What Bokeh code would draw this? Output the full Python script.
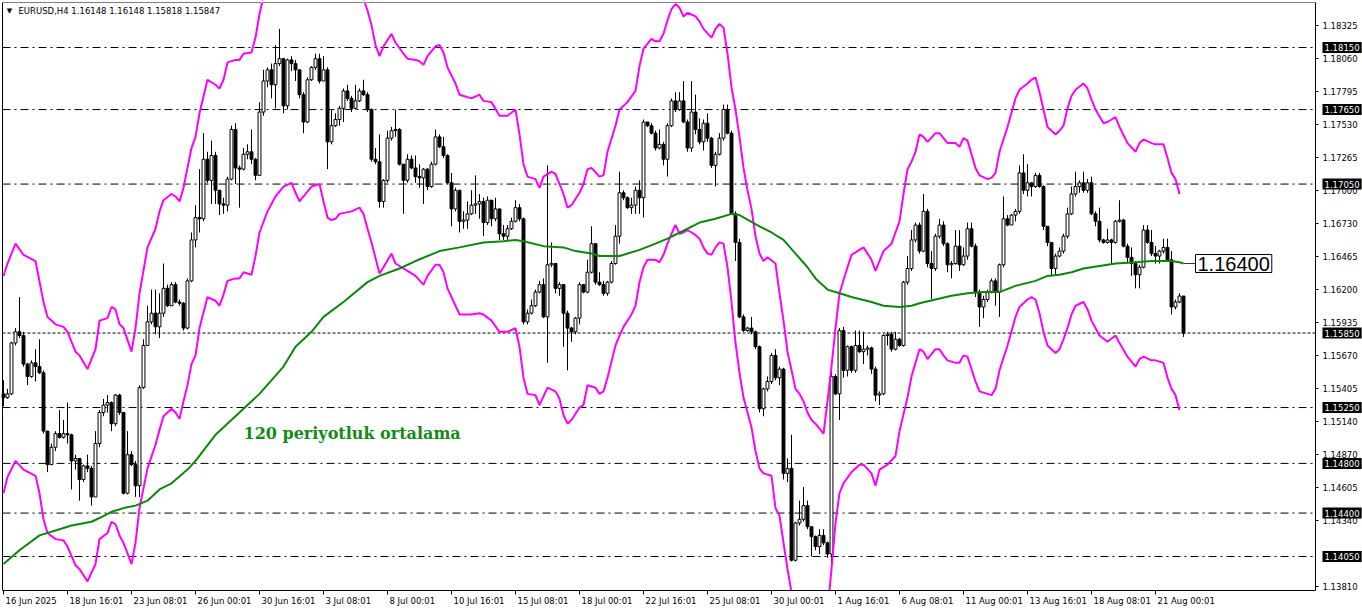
import numpy as np
from bokeh.plotting import figure
from bokeh.models import Range1d, FixedTicker, Label
from bokeh.embed import file_html
from bokeh.resources import INLINE

# ---------------- data ----------------
chart_title = "EURUSD,H4  1.16148 1.16148 1.15818 1.15847"
first_open = 1.1536

close = [
    1.1533, 1.1536, 1.1577, 1.1586, 1.1583, 1.1560, 1.1550, 1.1561, 1.1558, 1.1553,
    1.1506, 1.1479, 1.1493, 1.1504, 1.1501, 1.1504, 1.1503, 1.1482, 1.1484, 1.1467,
    1.1478, 1.1476, 1.1453, 1.1496, 1.1521, 1.1527, 1.1529, 1.1512, 1.1535, 1.1521,
    1.1456, 1.1487, 1.1479, 1.1462, 1.1541, 1.1575, 1.1594, 1.1601, 1.1590, 1.1601,
    1.1621, 1.1607, 1.1624, 1.1610, 1.1609, 1.1589, 1.1627, 1.1660, 1.1678, 1.1677,
    1.1725, 1.1708, 1.1728, 1.1700, 1.1689, 1.1688, 1.1709, 1.1749, 1.1718, 1.1717,
    1.1729, 1.1731, 1.1725, 1.1712, 1.1763, 1.1788, 1.1797, 1.1785, 1.1802, 1.1806,
    1.1768, 1.1805, 1.1802, 1.1797, 1.1777, 1.1755, 1.1789, 1.1799, 1.1806, 1.1788,
    1.1797, 1.1739, 1.1752, 1.1757, 1.1766, 1.1780, 1.1774, 1.1766, 1.1772, 1.1780,
    1.1777, 1.1765, 1.1725, 1.1723, 1.1691, 1.1708, 1.1742, 1.1748, 1.1749, 1.1721,
    1.1708, 1.1725, 1.1718, 1.1711, 1.1710, 1.1717, 1.1703, 1.1721, 1.1743, 1.1735,
    1.1728, 1.1706, 1.1685, 1.1700, 1.1675, 1.1676, 1.1681, 1.1688, 1.1689, 1.1691,
    1.1674, 1.1692, 1.1677, 1.1685, 1.1665, 1.1663, 1.1669, 1.1675, 1.1686, 1.1677,
    1.1594, 1.1601, 1.1607, 1.1618, 1.1624, 1.1598, 1.1640, 1.1641, 1.1621, 1.1624,
    1.1601, 1.1589, 1.1586, 1.1597, 1.1624, 1.1618, 1.1634, 1.1657, 1.1626, 1.1624,
    1.1617, 1.1626, 1.1641, 1.1663, 1.1698, 1.1694, 1.1686, 1.1688, 1.1700, 1.1694,
    1.1755, 1.1752, 1.1746, 1.1734, 1.1737, 1.1725, 1.1752, 1.1772, 1.1765, 1.1772,
    1.1755, 1.1734, 1.1763, 1.1749, 1.1739, 1.1754, 1.1742, 1.1720, 1.1729, 1.1742,
    1.1765, 1.1746, 1.1681, 1.1658, 1.1598, 1.1587, 1.1589, 1.1586, 1.1574, 1.1524,
    1.1540, 1.1546, 1.1567, 1.1549, 1.1556, 1.1472, 1.1476, 1.1402, 1.1432, 1.1435,
    1.1446, 1.1429, 1.1421, 1.1413, 1.1422, 1.1416, 1.1407, 1.1550, 1.1536, 1.1587,
    1.1555, 1.1574, 1.1555, 1.1575, 1.1570, 1.1572, 1.1573, 1.1556, 1.1535, 1.1536,
    1.1583, 1.1584, 1.1572, 1.1580, 1.1575, 1.1626, 1.1637, 1.1660, 1.1672, 1.1651,
    1.1683, 1.1641, 1.1637, 1.1663, 1.1672, 1.1657, 1.1640, 1.1641, 1.1655, 1.1640,
    1.1647, 1.1669, 1.1655, 1.1618, 1.1606, 1.1612, 1.1618, 1.1627, 1.1618, 1.1640,
    1.1677, 1.1672, 1.1680, 1.1683, 1.1714, 1.1700, 1.1706, 1.1703, 1.1712, 1.1703,
    1.1671, 1.1658, 1.1637, 1.1647, 1.1651, 1.1663, 1.1681, 1.1697, 1.1703, 1.1706,
    1.1700, 1.1706, 1.1681, 1.1675, 1.1660, 1.1658, 1.1660, 1.1658, 1.1675, 1.1676,
    1.1655, 1.1646, 1.1641, 1.1632, 1.1638, 1.1668, 1.1658, 1.1649, 1.1647, 1.1651,
    1.1654, 1.1644, 1.1606, 1.1610, 1.16148, 1.15847,
]

high = [
    1.1547, 1.1540, 1.1578, 1.1589, 1.1614, 1.1586, 1.1561, 1.1563, 1.1572, 1.1580,
    1.1555, 1.1506, 1.1496, 1.1506, 1.1523, 1.1515, 1.1529, 1.1504, 1.1487, 1.1484,
    1.1479, 1.1487, 1.1478, 1.1506, 1.1523, 1.1532, 1.1535, 1.1530, 1.1536, 1.1536,
    1.1519, 1.1506, 1.1490, 1.1482, 1.1543, 1.1580, 1.1607, 1.1620, 1.1620, 1.1617,
    1.1641, 1.1624, 1.1626, 1.1626, 1.1612, 1.1610, 1.1629, 1.1666, 1.1688, 1.1717,
    1.1746, 1.1731, 1.1740, 1.1731, 1.1700, 1.1694, 1.1711, 1.1752, 1.1754, 1.1720,
    1.1734, 1.1737, 1.1749, 1.1726, 1.1771, 1.1797, 1.1799, 1.1802, 1.1817, 1.1830,
    1.1806, 1.1806, 1.1808, 1.1805, 1.1797, 1.1779, 1.1791, 1.1800, 1.1810, 1.1810,
    1.1808, 1.1799, 1.1765, 1.1762, 1.1768, 1.1782, 1.1785, 1.1776, 1.1785, 1.1782,
    1.1789, 1.1779, 1.1766, 1.1734, 1.1745, 1.1709, 1.1748, 1.1751, 1.1765, 1.1750,
    1.1721, 1.1729, 1.1728, 1.1728, 1.1721, 1.1718, 1.1718, 1.1723, 1.1749, 1.1745,
    1.1743, 1.1729, 1.1714, 1.1702, 1.1700, 1.1683, 1.1691, 1.1700, 1.1712, 1.1697,
    1.1694, 1.1695, 1.1692, 1.1694, 1.1685, 1.1672, 1.1672, 1.1678, 1.1692, 1.1689,
    1.1678, 1.1604, 1.1612, 1.1620, 1.1627, 1.1629, 1.1720, 1.1658, 1.1641, 1.1626,
    1.1624, 1.1603, 1.1590, 1.1598, 1.1626, 1.1624, 1.1644, 1.1671, 1.1657, 1.1634,
    1.1627, 1.1627, 1.1643, 1.1672, 1.1715, 1.1700, 1.1695, 1.1694, 1.1703, 1.1708,
    1.1757, 1.1755, 1.1754, 1.1748, 1.1749, 1.1739, 1.1754, 1.1774, 1.1779, 1.1779,
    1.1788, 1.1757, 1.1788, 1.1777, 1.1758, 1.1757, 1.1762, 1.1743, 1.1731, 1.1746,
    1.1769, 1.1769, 1.1748, 1.1683, 1.1661, 1.1600, 1.1590, 1.1598, 1.1587, 1.1575,
    1.1541, 1.1550, 1.1569, 1.1572, 1.1558, 1.1557, 1.1484, 1.1503, 1.1433, 1.1450,
    1.1461, 1.1450, 1.1429, 1.1422, 1.1427, 1.1427, 1.1417, 1.1558, 1.1552, 1.1589,
    1.1590, 1.1575, 1.1575, 1.1587, 1.1587, 1.1586, 1.1575, 1.1574, 1.1558, 1.1538,
    1.1584, 1.1586, 1.1586, 1.1586, 1.1581, 1.1627, 1.1647, 1.1668, 1.1674, 1.1674,
    1.1697, 1.1685, 1.1651, 1.1665, 1.1677, 1.1675, 1.1658, 1.1643, 1.1668, 1.1668,
    1.1654, 1.1674, 1.1674, 1.1657, 1.1620, 1.1615, 1.1620, 1.1629, 1.1629, 1.1641,
    1.1695, 1.1680, 1.1681, 1.1685, 1.1720, 1.1729, 1.1721, 1.1706, 1.1714, 1.1714,
    1.1704, 1.1671, 1.1658, 1.1649, 1.1654, 1.1665, 1.1686, 1.1703, 1.1715, 1.1708,
    1.1715, 1.1709, 1.1711, 1.1683, 1.1686, 1.1661, 1.1669, 1.1661, 1.1676, 1.1692,
    1.1677, 1.1657, 1.1654, 1.1643, 1.1640, 1.1672, 1.1672, 1.1668, 1.1655, 1.1652,
    1.1661, 1.1661, 1.1651, 1.1612, 1.1617, 1.16148,
]

low = [
    1.1526, 1.1532, 1.1535, 1.1575, 1.1581, 1.1558, 1.1543, 1.1549, 1.1546, 1.1552,
    1.1504, 1.1473, 1.1479, 1.1490, 1.1500, 1.1500, 1.1496, 1.1459, 1.1475, 1.1450,
    1.1465, 1.1473, 1.1446, 1.1453, 1.1493, 1.1518, 1.1521, 1.1506, 1.1510, 1.1519,
    1.1455, 1.1455, 1.1478, 1.1453, 1.1453, 1.1540, 1.1575, 1.1592, 1.1584, 1.1581,
    1.1598, 1.1606, 1.1607, 1.1609, 1.1607, 1.1587, 1.1588, 1.1626, 1.1654, 1.1666,
    1.1675, 1.1706, 1.1689, 1.1689, 1.1680, 1.1681, 1.1683, 1.1708, 1.1705, 1.1686,
    1.1716, 1.1725, 1.1721, 1.1708, 1.1712, 1.1760, 1.1783, 1.1774, 1.1766, 1.1800,
    1.1762, 1.1765, 1.1796, 1.1788, 1.1774, 1.1746, 1.1754, 1.1788, 1.1797, 1.1786,
    1.1788, 1.1717, 1.1737, 1.1751, 1.1752, 1.1755, 1.1772, 1.1763, 1.1765, 1.1771,
    1.1776, 1.1763, 1.1723, 1.1721, 1.1686, 1.1686, 1.1706, 1.1740, 1.1743, 1.1720,
    1.1681, 1.1706, 1.1717, 1.1706, 1.1702, 1.1689, 1.1700, 1.1702, 1.1720, 1.1734,
    1.1726, 1.1705, 1.1671, 1.1683, 1.1666, 1.1669, 1.1669, 1.1680, 1.1681, 1.1677,
    1.1663, 1.1672, 1.1671, 1.1675, 1.1660, 1.1660, 1.1660, 1.1668, 1.1674, 1.1675,
    1.1592, 1.1592, 1.1600, 1.1606, 1.1617, 1.1597, 1.1561, 1.1638, 1.1617, 1.1615,
    1.1574, 1.1555, 1.1578, 1.1584, 1.1592, 1.1617, 1.1617, 1.1633, 1.1624, 1.1623,
    1.1615, 1.1615, 1.1625, 1.1640, 1.1657, 1.1692, 1.1685, 1.1681, 1.1681, 1.1681,
    1.1678, 1.1751, 1.1745, 1.1732, 1.1733, 1.1720, 1.1711, 1.1751, 1.1763, 1.1764,
    1.1754, 1.1731, 1.1731, 1.1745, 1.1737, 1.1732, 1.1739, 1.1718, 1.1703, 1.1728,
    1.1740, 1.1745, 1.1680, 1.1643, 1.1597, 1.1586, 1.1586, 1.1584, 1.1572, 1.1521,
    1.1518, 1.1538, 1.1544, 1.1547, 1.1543, 1.1467, 1.1465, 1.1401, 1.1401, 1.1430,
    1.1433, 1.1427, 1.1405, 1.1410, 1.1407, 1.1414, 1.1404, 1.1392, 1.1535, 1.1515,
    1.1549, 1.1550, 1.1553, 1.1553, 1.1569, 1.1560, 1.1567, 1.1552, 1.1530, 1.1527,
    1.1535, 1.1575, 1.1570, 1.1571, 1.1574, 1.1574, 1.1624, 1.1635, 1.1658, 1.1649,
    1.1650, 1.1638, 1.1612, 1.1635, 1.1661, 1.1655, 1.1634, 1.1629, 1.1640, 1.1635,
    1.1639, 1.1644, 1.1654, 1.1614, 1.1590, 1.1597, 1.1610, 1.1617, 1.1607, 1.1598,
    1.1638, 1.1671, 1.1672, 1.1675, 1.1681, 1.1697, 1.1695, 1.1695, 1.1702, 1.1702,
    1.1668, 1.1655, 1.1631, 1.1632, 1.1646, 1.1649, 1.1661, 1.1680, 1.1695, 1.1698,
    1.1698, 1.1698, 1.1680, 1.1671, 1.1658, 1.1657, 1.1657, 1.1641, 1.1657, 1.1674,
    1.1654, 1.1641, 1.1631, 1.1621, 1.1621, 1.1637, 1.1657, 1.1647, 1.1641, 1.1641,
    1.1649, 1.1643, 1.1600, 1.1604, 1.1609, 1.15818,
]

# envelope upper band (bar index, price)
upper_bars = [0, 1, 3, 5, 8, 10, 11, 13, 15, 16, 18, 19, 21, 23, 24, 26, 27, 28, 29, 30,
              32, 33, 34, 36, 38, 39, 40, 42, 43, 44, 45, 46, 47, 48, 49, 51, 53, 54, 55, 56,
              58, 59, 60, 62, 63, 64, 65, 66, 68, 70, 72, 74, 77, 79, 81, 83, 85, 87, 89, 90,
              91, 92, 93, 94, 95, 97, 98, 100, 101, 103, 104, 105, 106, 108, 109, 110, 111, 113, 114, 117,
              119, 120, 122, 124, 126, 128, 129, 130, 131, 133, 134, 135, 137, 138, 140, 141, 142, 144, 145, 146,
              147, 149, 150, 151, 153, 154, 156, 158, 159, 160, 162, 163, 164, 165, 166, 167, 168, 169, 170, 171,
              173, 174, 175, 177, 178, 179, 180, 181, 182, 183, 184, 185, 186, 187, 188, 189, 190, 191, 193, 194,
              195, 196, 197, 198, 199, 200, 201, 202, 203, 205, 206, 207, 208, 209, 211, 212, 214, 215, 217, 218,
              219, 220, 222, 223, 224, 225, 226, 227, 228, 229, 230, 231, 233, 234, 235, 236, 238, 239, 240, 241,
              243, 244, 246, 247, 248, 249, 251, 253, 254, 256, 257, 258, 259, 260, 261, 263, 264, 265, 266, 267,
              268, 270, 271, 272, 273, 275, 276, 278, 279, 281, 283, 284, 285, 287, 288, 290, 291, 292, 293, 294]
upper_vals = [1.1631, 1.1641, 1.1657, 1.1648, 1.1643, 1.1610, 1.1598, 1.1592, 1.1590, 1.1586,
              1.1570, 1.1567, 1.1556, 1.1572, 1.1595, 1.1597, 1.1606, 1.1604, 1.1592, 1.1589,
              1.1570, 1.1589, 1.1617, 1.1654, 1.1669, 1.1683, 1.1692, 1.1697, 1.1695, 1.1691,
              1.1702, 1.1718, 1.1734, 1.1743, 1.1762, 1.1789, 1.1785, 1.1782, 1.1789, 1.1803,
              1.1805, 1.1805, 1.1810, 1.1811, 1.1823, 1.1842, 1.1856, 1.1859, 1.1870, 1.1877,
              1.1880, 1.1868, 1.1877, 1.1879, 1.1857, 1.1857, 1.1859, 1.1860, 1.1862, 1.1854,
              1.1845, 1.1833, 1.1817, 1.1808, 1.1816, 1.1826, 1.1819, 1.1810, 1.1806, 1.1805,
              1.1804, 1.1801, 1.1808, 1.1816, 1.1817, 1.1811, 1.1799, 1.1786, 1.1777, 1.1774,
              1.1777, 1.1772, 1.1771, 1.1760, 1.1760, 1.1765, 1.1745, 1.1721, 1.1711, 1.1709,
              1.1702, 1.1711, 1.1715, 1.1713, 1.1697, 1.1686, 1.1688, 1.1698, 1.1705, 1.1717,
              1.1718, 1.1711, 1.1712, 1.1731, 1.1752, 1.1765, 1.1771, 1.1780, 1.1800, 1.1814,
              1.1822, 1.1820, 1.1820, 1.1826, 1.1837, 1.1846, 1.1850, 1.1847, 1.1840, 1.1843,
              1.1840, 1.1836, 1.1830, 1.1823, 1.1830, 1.1834, 1.1831, 1.1810, 1.1783, 1.1765,
              1.1743, 1.1718, 1.1700, 1.1685, 1.1663, 1.1649, 1.1643, 1.1646, 1.1641, 1.1617,
              1.1595, 1.1570, 1.1555, 1.1540, 1.1536, 1.1530, 1.1521, 1.1515, 1.1512, 1.1504,
              1.1530, 1.1558, 1.1589, 1.1617, 1.1638, 1.1648, 1.1652, 1.1654, 1.1644, 1.1635,
              1.1643, 1.1651, 1.1657, 1.1666, 1.1675, 1.1697, 1.1717, 1.1723, 1.1731, 1.1745,
              1.1743, 1.1739, 1.1746, 1.1746, 1.1742, 1.1738, 1.1738, 1.1735, 1.1742, 1.1740,
              1.1718, 1.1712, 1.1709, 1.1710, 1.1714, 1.1731, 1.1751, 1.1774, 1.1781, 1.1786,
              1.1789, 1.1791, 1.1779, 1.1765, 1.1751, 1.1745, 1.1748, 1.1752, 1.1766, 1.1776,
              1.1781, 1.1786, 1.1782, 1.1773, 1.1765, 1.1754, 1.1755, 1.1759, 1.1751, 1.1738,
              1.1731, 1.1738, 1.1741, 1.1738, 1.1737, 1.1737, 1.1726, 1.1714, 1.1709, 1.1697]

# envelope lower band (bar index, price)
lower_bars = [0, 1, 3, 5, 8, 9, 10, 11, 13, 15, 16, 18, 19, 21, 23, 24, 26, 27, 28, 29,
              30, 32, 33, 34, 36, 38, 39, 40, 42, 43, 44, 45, 46, 47, 48, 49, 51, 53, 54, 55,
              56, 58, 59, 60, 62, 63, 64, 66, 68, 70, 72, 73, 74, 75, 77, 79, 80, 81, 82, 83,
              84, 87, 89, 90, 91, 92, 94, 95, 97, 98, 100, 101, 103, 105, 106, 108, 109, 110, 111, 113,
              114, 117, 119, 120, 122, 124, 126, 128, 129, 130, 131, 133, 134, 136, 138, 139, 140, 141, 142, 144,
              145, 146, 148, 149, 150, 151, 153, 154, 155, 157, 158, 159, 160, 161, 163, 164, 165, 166, 167, 168,
              169, 170, 171, 173, 174, 175, 176, 177, 178, 179, 180, 181, 182, 183, 184, 185, 186, 187, 188, 189,
              190, 192, 193, 194, 195, 196, 197, 198, 199, 200, 201, 202, 203, 205, 206, 207, 208, 209, 210, 212,
              214, 215, 217, 218, 219, 221, 223, 224, 226, 227, 228, 229, 230, 231, 233, 234, 235, 236, 238, 239,
              240, 241, 243, 244, 246, 247, 248, 249, 251, 253, 254, 256, 257, 258, 259, 260, 261, 263, 264, 265,
              266, 267, 268, 270, 271, 272, 274, 276, 278, 279, 281, 283, 284, 285, 287, 288, 290, 291, 292, 293,
              294]
lower_vals = [1.1456, 1.1469, 1.1482, 1.1475, 1.1470, 1.1456, 1.1435, 1.1424, 1.1419, 1.1418,
              1.1413, 1.1398, 1.1395, 1.1385, 1.1399, 1.1419, 1.1424, 1.1433, 1.1431, 1.1422,
              1.1416, 1.1399, 1.1416, 1.1444, 1.1476, 1.1495, 1.1507, 1.1518, 1.1524, 1.1521,
              1.1516, 1.1530, 1.1543, 1.1560, 1.1567, 1.1589, 1.1614, 1.1611, 1.1607, 1.1616,
              1.1627, 1.1629, 1.1629, 1.1634, 1.1632, 1.1647, 1.1666, 1.1683, 1.1695, 1.1703,
              1.1706, 1.1698, 1.1691, 1.1695, 1.1703, 1.1705, 1.1691, 1.1678, 1.1676, 1.1677,
              1.1681, 1.1683, 1.1686, 1.1681, 1.1669, 1.1658, 1.1633, 1.1638, 1.1649, 1.1641,
              1.1637, 1.1635, 1.1631, 1.1624, 1.1631, 1.1640, 1.1640, 1.1634, 1.1621, 1.1607,
              1.1600, 1.1600, 1.1601, 1.1600, 1.1595, 1.1586, 1.1586, 1.1589, 1.1574, 1.1549,
              1.1536, 1.1535, 1.1527, 1.1541, 1.1538, 1.1532, 1.1519, 1.1512, 1.1515, 1.1525,
              1.1527, 1.1543, 1.1541, 1.1536, 1.1538, 1.1549, 1.1575, 1.1583, 1.1590, 1.1600,
              1.1607, 1.1626, 1.1638, 1.1644, 1.1644, 1.1642, 1.1648, 1.1657, 1.1665, 1.1672,
              1.1665, 1.1666, 1.1668, 1.1664, 1.1661, 1.1654, 1.1649, 1.1648, 1.1654, 1.1658,
              1.1657, 1.1638, 1.1610, 1.1577, 1.1553, 1.1533, 1.1521, 1.1509, 1.1490, 1.1476,
              1.1472, 1.1470, 1.1444, 1.1438, 1.1416, 1.1395, 1.1376, 1.1365, 1.1361, 1.1356,
              1.1347, 1.1341, 1.1338, 1.1330, 1.1361, 1.1395, 1.1432, 1.1456, 1.1464, 1.1473,
              1.1479, 1.1479, 1.1472, 1.1462, 1.1475, 1.1479, 1.1486, 1.1506, 1.1533, 1.1550,
              1.1561, 1.1572, 1.1570, 1.1564, 1.1572, 1.1572, 1.1567, 1.1563, 1.1561, 1.1561,
              1.1567, 1.1566, 1.1546, 1.1538, 1.1536, 1.1535, 1.1540, 1.1555, 1.1575, 1.1598,
              1.1606, 1.1612, 1.1614, 1.1612, 1.1601, 1.1586, 1.1575, 1.1569, 1.1572, 1.1580,
              1.1589, 1.1600, 1.1607, 1.1610, 1.1604, 1.1595, 1.1583, 1.1578, 1.1583, 1.1577,
              1.1566, 1.1558, 1.1564, 1.1566, 1.1563, 1.1563, 1.1561, 1.1549, 1.1540, 1.1535,
              1.1523]

# 120-period moving average (bar index, price)
ma_bars = [0, 4, 9, 14, 17, 22, 24, 27, 30, 33, 36, 39, 42, 46, 48, 53, 60, 64, 70, 73,
           77, 80, 85, 91, 94, 99, 103, 109, 114, 120, 125, 128, 130, 135, 140, 143, 147, 149, 152, 154,
           159, 163, 166, 171, 174, 178, 182, 184, 189, 192, 195, 198, 201, 203, 206, 209, 212, 217, 220, 224,
           227, 229, 233, 237, 241, 245, 249, 253, 258, 261, 264, 267, 270, 274, 278, 283, 287, 292, 294, 295]
ma_vals = [1.1399, 1.1410, 1.1422, 1.1427, 1.1430, 1.1433, 1.1436, 1.1441, 1.1444, 1.1446,
           1.1450, 1.1459, 1.1464, 1.1475, 1.1482, 1.1503, 1.1524, 1.1536, 1.1558, 1.1574,
           1.1586, 1.1598, 1.1610, 1.1626, 1.1631, 1.1637, 1.1643, 1.1651, 1.1654, 1.1658,
           1.1659, 1.1660, 1.1659, 1.1655, 1.1654, 1.1651, 1.1649, 1.1647, 1.1647, 1.1647,
           1.1652, 1.1657, 1.1661, 1.1669, 1.1674, 1.1677, 1.1681, 1.1680, 1.1671, 1.1666,
           1.1660, 1.1649, 1.1638, 1.1629, 1.1620, 1.1617, 1.1614, 1.1610, 1.1607, 1.1606,
           1.1607, 1.1609, 1.1612, 1.1615, 1.1617, 1.1618, 1.1618, 1.1623, 1.1627, 1.1631,
           1.1632, 1.1634, 1.1637, 1.1639, 1.1641, 1.1642, 1.1643, 1.1643, 1.1642, 1.1641]
ma_label = "1.16400"
ma_caption = "120 periyotluk ortalama"

level_labels = ["1.18150", "1.17650", "1.17050", "1.15850", "1.15250", "1.14800", "1.14400", "1.14050"]
price_tick_labels = ["1.18325", "1.18060", "1.17795", "1.17530", "1.17265", "1.17000", "1.16730",
                     "1.16465", "1.16200", "1.15935", "1.15670", "1.15405", "1.15140", "1.14870",
                     "1.14605", "1.14340", "1.13810"]
time_labels = ["16 Jun 2025", "18 Jun 16:01", "23 Jun 08:01", "26 Jun 00:01", "30 Jun 16:01",
               "3 Jul 08:01", "8 Jul 00:01", "10 Jul 16:01", "15 Jul 08:01", "18 Jul 00:01",
               "22 Jul 16:01", "25 Jul 08:01", "30 Jul 00:01", "1 Aug 16:01", "6 Aug 08:01",
               "11 Aug 00:01", "13 Aug 16:01", "18 Aug 08:01", "21 Aug 00:01"]
bars_between_time_labels = 16

# ---------------- geometry (the figure fills the page) ----------------
FIG_W, FIG_H = 1362, 611
PPB = 4.0                                        # pixels per bar
X0 = -0.75                                       # bar at the left page edge
X1 = X0 + FIG_W / PPB
X_BORDER = X0 + 1315 / PPB                       # price-axis line
X_LEFT = X0 + 2 / PPB                            # left chart border
PPU = 12415.0                                    # pixels per price unit
Y1 = 1.1815 + 47 / PPU                           # price at the top page edge
Y0 = Y1 - FIG_H / PPU
AXIS_Y = Y1 - 590 / PPU                          # time-axis line
Y_TOP = Y1 - 2 / PPU                             # top chart border

# ---------------- candles ----------------
n = len(close)
idx = np.arange(n)
c = np.array(close)
o = np.concatenate([[first_open], c[:-1]])
h = np.array(high)
l = np.array(low)
top_w = np.maximum(h, np.maximum(o, c))
bot_w = np.minimum(l, np.minimum(o, c))
body_top = np.maximum(o, c)
body_bot = np.minimum(o, c)
fills = np.where(c >= o, "white", "black")

AX_FONT = "DejaVu Sans"
AX_PX = 8.5
AX_SIZE = f"{AX_PX}px"

p = figure(width=FIG_W, height=FIG_H, output_backend="svg", toolbar_location=None,
           x_range=Range1d(X0, X1), y_range=Range1d(Y0, Y1),
           y_axis_location="right", min_border_left=0, min_border_top=0,
           min_border_bottom=0, min_border_right=0)
p.background_fill_color = "white"
p.border_fill_color = "white"
p.outline_line_color = None
p.xgrid.visible = False
p.ygrid.visible = False

# right price axis, drawn at the chart border
yt = [float(s) for s in price_tick_labels]
p.yaxis.fixed_location = X_BORDER
p.yaxis.bounds = (AXIS_Y, Y_TOP)
p.yaxis.ticker = FixedTicker(ticks=yt)
p.yaxis.major_label_overrides = {t: s for t, s in zip(yt, price_tick_labels)}
p.yaxis.major_tick_out = 3
p.yaxis.major_tick_in = 0
p.yaxis.minor_tick_out = 0
p.yaxis.minor_tick_in = 0
p.yaxis.major_label_standoff = 4
p.yaxis.major_label_text_font = AX_FONT
p.yaxis.major_label_text_font_size = AX_SIZE
p.yaxis.major_label_text_color = "black"
p.yaxis.axis_line_color = "black"

# bottom time axis: labels start at their tick (tick drawn as minor tick)
char_em = {" ": 0.318, ":": 0.337, "J": 0.295, "u": 0.634, "n": 0.634, "l": 0.278,
           "A": 0.684, "g": 0.635}
def text_px(s):
    return sum(char_em.get(ch, 0.636) for ch in s) * AX_PX

tick_bars = [i * bars_between_time_labels for i in range(len(time_labels))]
label_centers = [t + (text_px(s) / 2 + 2) / PPB for t, s in zip(tick_bars, time_labels)]
p.xaxis.fixed_location = AXIS_Y
p.xaxis.bounds = (X_LEFT, X_BORDER)
p.xaxis.ticker = FixedTicker(ticks=label_centers, minor_ticks=tick_bars)
p.xaxis.major_label_overrides = {t: s for t, s in zip(label_centers, time_labels)}
p.xaxis.major_tick_out = 0
p.xaxis.major_tick_in = 0
p.xaxis.minor_tick_out = 4
p.xaxis.minor_tick_in = 0
p.xaxis.minor_tick_line_color = "black"
p.xaxis.major_label_standoff = 1
p.xaxis.major_label_text_font = AX_FONT
p.xaxis.major_label_text_font_size = AX_SIZE
p.xaxis.major_label_text_color = "black"
p.xaxis.axis_line_color = "black"

# chart border (top and left)
p.segment(x0=[X_LEFT, X_LEFT], y0=[Y_TOP, AXIS_Y], x1=[X_BORDER, X_LEFT], y1=[Y_TOP, Y_TOP],
          line_color="black", line_width=1)

# horizontal price levels
lv = [float(s) for s in level_labels]
dotted = [v for s, v in zip(level_labels, lv) if s == "1.15850"]
dashdot = [v for s, v in zip(level_labels, lv) if s != "1.15850"]
p.segment(x0=[X_LEFT] * len(dashdot), x1=[X_BORDER] * len(dashdot), y0=dashdot, y1=dashdot,
          line_color="black", line_width=1, line_dash="8 4 2 4")
p.segment(x0=[X_LEFT] * len(dotted), x1=[X_BORDER] * len(dotted), y0=dotted, y1=dotted,
          line_color="black", line_width=1, line_dash="3 2")

# candles
p.segment(x0=idx, y0=bot_w, x1=idx, y1=top_w, line_color="black", line_width=1)
p.vbar(x=idx, width=0.72, top=body_top, bottom=body_bot, fill_color=fills,
       line_color="black", line_width=1)

# indicators
p.line(upper_bars, upper_vals, line_color="#FF00FF", line_width=2)
p.line(lower_bars, lower_vals, line_color="#FF00FF", line_width=2)
p.line(ma_bars, ma_vals, line_color="#0B870B", line_width=2)

# white strips outside the chart area (above the top border, below the time axis)
p.quad(left=[X0, X0], right=[X1, X1], bottom=[Y0, Y_TOP], top=[AXIS_Y, Y1],
       fill_color="white", line_color=None)

# connector + MA value label
lbl_x = ma_bars[-1] + 3
p.segment(x0=[ma_bars[-1]], y0=[ma_vals[-1]], x1=[lbl_x], y1=[ma_vals[-1]],
          line_color="#333333", line_width=1)
p.add_layout(Label(x=lbl_x, y=ma_vals[-1], text=ma_label, text_font="Liberation Sans",
                   text_font_size="20px", text_color="black", text_align="left",
                   text_baseline="middle", background_fill_color="white",
                   border_line_color="black", border_line_width=1, padding=2))

# caption
p.add_layout(Label(x=X0 + 243 / PPB, y=Y1 - 433 / PPU, text=ma_caption, text_font="DejaVu Serif",
                   text_font_style="bold", text_font_size="16px", text_color="#138A13",
                   text_align="left", text_baseline="middle"))

# top-left title
title_y = Y1 - 10 / PPU
p.add_layout(Label(x=X0 + 9 / PPB, y=title_y, text="\u25BC", text_font=AX_FONT,
                   text_font_size="7px", text_color="black", text_align="center",
                   text_baseline="middle"))
p.add_layout(Label(x=X0 + 18 / PPB, y=title_y, text=chart_title, text_font=AX_FONT,
                   text_font_size=AX_SIZE, text_color="black", text_align="left",
                   text_baseline="middle"))

# highlighted level labels on the price axis
for s, v in zip(level_labels, lv):
    p.add_layout(Label(x=X_BORDER + 7 / PPB, y=v, text=s, text_font=AX_FONT,
                       text_font_size=AX_SIZE, text_color="white", text_align="left",
                       text_baseline="middle", background_fill_color="black", padding=2))

open("out.html", "w").write(file_html(p, INLINE))
